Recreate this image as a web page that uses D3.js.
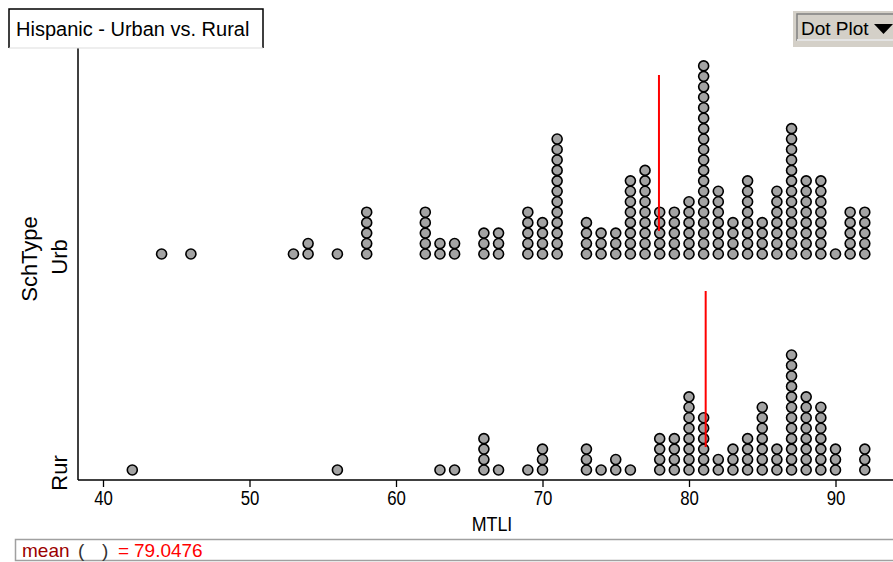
<!DOCTYPE html>
<html>
<head>
<meta charset="utf-8">
<script src="https://cdn.jsdelivr.net/npm/d3@7"></script>
<style>
  html, body { margin: 0; padding: 0; background: #fff; }
  svg { display: block; font-family: "Liberation Sans", Arial, sans-serif; }
</style>
</head>
<body>
<svg id="chart" width="893" height="562"></svg>
<script>
// ---- Data (MTLI value -> count of schools) ----
const categories = ["Urb", "Rur"];
const urbValues = [44,46,53,54,56,58,62,63,64,66,67,69,70,71,73,74,75,76,77,78,79,80,81,82,83,84,85,86,87,88,89,90,91,92];
const urbCounts = [ 1, 1, 1, 2, 1, 5, 5, 2, 2, 3, 3, 5, 4,12, 4, 3, 3, 8, 9, 5, 5, 6,19, 7, 4, 8, 4, 7,13, 8, 8, 1, 5, 5];
const rurValues = [42,56,63,64,66,67,69,70,73,74,75,76,78,79,80,81,82,83,84,85,86,87,88,89,90,92];
const rurCounts = [ 1, 1, 1, 1, 4, 1, 1, 3, 3, 1, 2, 1, 4, 4, 8, 6, 2, 3, 4, 7, 3,12, 8, 7, 3, 3];
const xTicks = [40, 50, 60, 70, 80, 90];
const titleText = "Hispanic - Urban vs. Rural";
const xLabel = "MTLI";
const yLabel = "SchType";

const svg = d3.select("#chart");

const plot = { left: 78, right: 893, top: 48, bottom: 480 };
const x = d3.scaleLinear().domain([40, 90]).range([103, 835.5]);
const y = d3.scaleBand().domain(categories).range([plot.top, plot.bottom]);
const step = 10.45, r = 5;

function expand(values, counts) {
  const out = [];
  values.forEach((v, i) => { for (let k = 0; k < counts[i]; k++) out.push({ v, k }); });
  return out;
}
const series = {
  Urb: expand(urbValues, urbCounts),
  Rur: expand(rurValues, rurCounts)
};

// left axis line
svg.append("line")
  .attr("x1", plot.left).attr("x2", plot.left)
  .attr("y1", plot.top).attr("y2", plot.bottom)
  .attr("stroke", "#000").attr("stroke-width", 1.5);

// bottom axis
const axis = d3.axisBottom(x).tickValues(xTicks).tickSize(7).tickSizeOuter(0);
const gx = svg.append("g").attr("transform", `translate(0,${plot.bottom})`).call(axis);
gx.select(".domain").remove();
gx.append("line").attr("x1", plot.left).attr("x2", plot.right)
  .attr("y1", 0).attr("y2", 0).attr("stroke", "#000").attr("stroke-width", 1.5);
gx.selectAll(".tick line").attr("stroke", "#000").attr("stroke-width", 1.3);
gx.selectAll(".tick text").attr("fill", "#000")
  .attr("y", 25).attr("dy", 0)
  .attr("transform", "scale(0.8,1)")
  .style("font-family", "'Liberation Sans', Arial, sans-serif")
  .style("font-size", "21px");

// dots + mean lines
categories.forEach(cat => {
  const base = y(cat) + y.bandwidth() - 10;
  const data = series[cat];
  svg.append("g").selectAll("circle").data(data).join("circle")
    .attr("cx", d => x(d.v))
    .attr("cy", d => base - d.k * step)
    .attr("r", r)
    .attr("fill", "#a3a3a3")
    .attr("stroke", "#000")
    .attr("stroke-width", 1.6);
  const mean = d3.mean(data, d => d.v);
  svg.append("line")
    .attr("x1", x(mean)).attr("x2", x(mean))
    .attr("y1", y(cat) + 27).attr("y2", y(cat) + y.bandwidth() - 33)
    .attr("stroke", "#ff0000").attr("stroke-width", 2);
  // category label
  svg.append("text")
    .attr("transform", `translate(67,${base + 3}) rotate(-90)`)
    .attr("text-anchor", "middle")
    .style("font-size", "22px")
    .text(cat);
});

// y axis title
svg.append("text")
  .attr("transform", `translate(37,259) rotate(-90)`)
  .attr("text-anchor", "middle")
  .style("font-size", "22px")
  .text(yLabel);

// x axis title
svg.append("text")
  .attr("transform", "translate(492,531) scale(0.85,1)")
  .attr("text-anchor", "middle")
  .style("font-size", "21px")
  .text(xLabel);

// title box
svg.append("path")
  .attr("d", "M9,48 L9,9 L263,9 L263,48")
  .attr("fill", "none").attr("stroke", "#000").attr("stroke-width", 1.5);
svg.append("line").attr("x1", 9).attr("x2", 263).attr("y1", 48).attr("y2", 48)
  .attr("stroke", "#ddd").attr("stroke-width", 1);
svg.append("text").attr("x", 16).attr("y", 36)
  .style("font-size", "20px").text(titleText);

// Dot Plot button
svg.append("rect").attr("x", 793).attr("y", 11).attr("width", 100).attr("height", 36)
  .attr("fill", "#d4d0c8");
svg.append("rect").attr("x", 797).attr("y", 14).attr("width", 100).attr("height", 26)
  .attr("fill", "#d4d0c8").attr("stroke", "#808080").attr("stroke-width", 1.5);
svg.append("line").attr("x1", 797).attr("x2", 893).attr("y1", 40).attr("y2", 40)
  .attr("stroke", "#fff").attr("stroke-width", 1.5);
svg.append("text").attr("x", 801).attr("y", 35)
  .style("font-size", "19px").text("Dot Plot");
svg.append("path").attr("d", "M874,24 L893,24 L883.5,34 Z").attr("fill", "#000");

// status bar
svg.append("rect").attr("x", 15.5).attr("y", 539.5).attr("width", 880).attr("height", 21)
  .attr("fill", "#fff").attr("stroke", "#a0a0a0").attr("stroke-width", 1.5);
const overallMean = d3.mean(series.Urb.concat(series.Rur), d => d.v);
const st = svg.append("g").style("font-size", "19px");
st.append("text").attr("x", 22).attr("y", 557).attr("fill", "#9b0000").text("mean");
st.append("text").attr("x", 78).attr("y", 557).attr("fill", "#333").text("(");
st.append("text").attr("x", 102).attr("y", 557).attr("fill", "#333").text(")");
st.append("text").attr("x", 118).attr("y", 557).attr("fill", "#ff0000").text("=");
st.append("text").attr("x", 134).attr("y", 557).attr("fill", "#ff0000").text(overallMean.toFixed(4));
</script>
</body>
</html>
